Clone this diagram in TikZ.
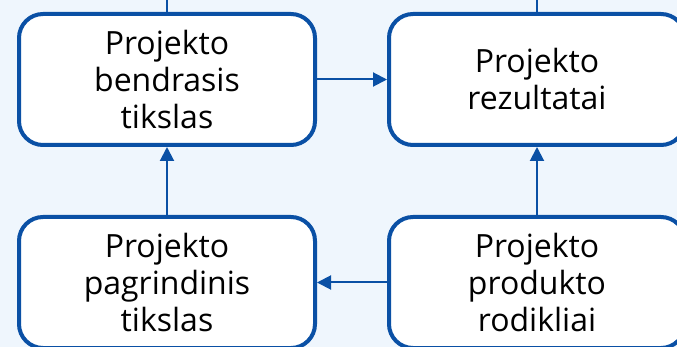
\documentclass[tikz,border=0pt]{standalone}
\usepackage{fontspec}
\setmainfont{Open Sans}
\usetikzlibrary{arrows.meta}
\definecolor{boxblue}{RGB}{10,80,165}
\definecolor{paleblue}{RGB}{239,246,253}
\begin{document}
\begin{tikzpicture}[x=1pt,y=-1pt,
  goalbox/.style={draw=boxblue,line width=4pt,fill=white,rounded corners=24pt,
    minimum width=296pt,minimum height=131pt,align=center,inner sep=0pt,
    font=\fontsize{32}{37}\selectfont},
  link/.style={draw=boxblue,line width=2pt},
  arrowlink/.style={link,-{Triangle[length=14pt,width=14pt]}}]
\fill[paleblue] (0,0) rectangle (677,347);
\useasboundingbox (0,0) rectangle (677,347);

\node[goalbox] (bendras) at (167,79.5) {Projekto\\bendrasis\\tikslas};
\node[goalbox] (rezult) at (537,79.5) {Projekto\\rezultatai};
\node[goalbox] (pagrind) at (167,282.5) {Projekto\\pagrindinis\\tikslas};
\node[goalbox] (rodikl) at (537,282.5) {Projekto\\produkto\\rodikliai};

\coordinate (topl) at (167,0);
\coordinate (topr) at (537,0);

\path[link] (bendras.north) -- (topl);
\path[link] (rezult.north) -- (topr);
\path[arrowlink] (bendras.east) -- (rezult.west);
\path[arrowlink] (pagrind.north) -- (bendras.south);
\path[arrowlink] (rodikl.north) -- (rezult.south);
\path[arrowlink] (rodikl.west) -- (pagrind.east);
\end{tikzpicture}
\end{document}
